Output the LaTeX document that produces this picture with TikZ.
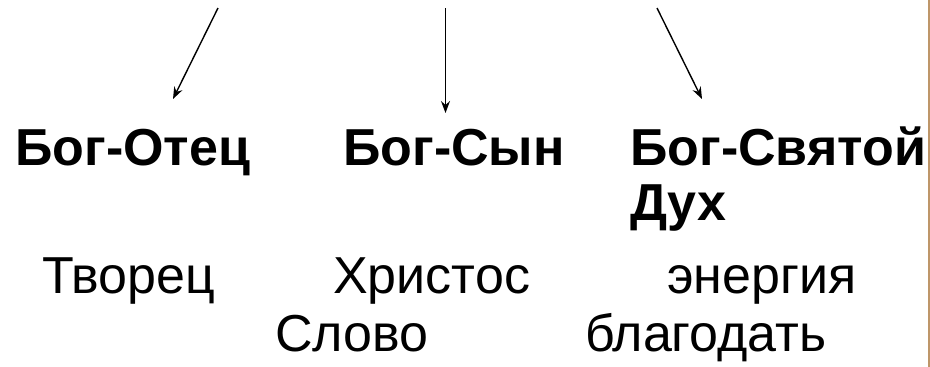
\documentclass[tikz,border=0pt]{standalone}
\usepackage{fontspec}
\setmainfont{Liberation Sans}
\usetikzlibrary{arrows.meta}
\tikzset{
  bigbold/.style={anchor=base west,inner sep=0pt,font=\fontsize{52}{55}\selectfont\bfseries},
  bigreg/.style={anchor=base west,inner sep=0pt,font=\fontsize{52}{55}\selectfont},
  arr/.style={line width=1.4pt,-{Stealth[length=12pt,width=9pt,inset=4pt]}}
}
\begin{document}
\begin{tikzpicture}[x=1pt,y=-1pt]
\useasboundingbox (0,0) rectangle (930,367);
\fill[white] (0,0) rectangle (930,367);
\draw[line width=1.5pt,color={rgb,255:red,190;green,150;blue,105}] (929,0) -- (929,367);
% arrows
\coordinate (s1) at (218,8);
\coordinate (e1) at (173,99);
\coordinate (s2) at (445.5,8);
\coordinate (e2) at (445.5,113);
\coordinate (s3) at (657,8);
\coordinate (e3) at (702,99);
\draw[arr] (s1) -- (e1);
\draw[arr] (s2) -- (e2);
\draw[arr] (s3) -- (e3);
% bold names
\node[bigbold] (otec) at (15,165) {Бог-Отец};
\node[bigbold] (syn) at (343,165) {Бог-Сын};
\node[bigbold] (duh1) at (630,165) {Бог-Святой};
\node[bigbold] (duh2) at (630,220) {Дух};
% attributes
\node[bigreg] (tvorec) at (42,293) {Творец};
\node[bigreg] (hristos) at (333,293) {Христос};
\node[bigreg] (energ) at (667,293) {энергия};
\node[bigreg] (slovo) at (275,351) {Слово};
\node[bigreg] (blago) at (585,351) {благодать};
\end{tikzpicture}
\end{document}
